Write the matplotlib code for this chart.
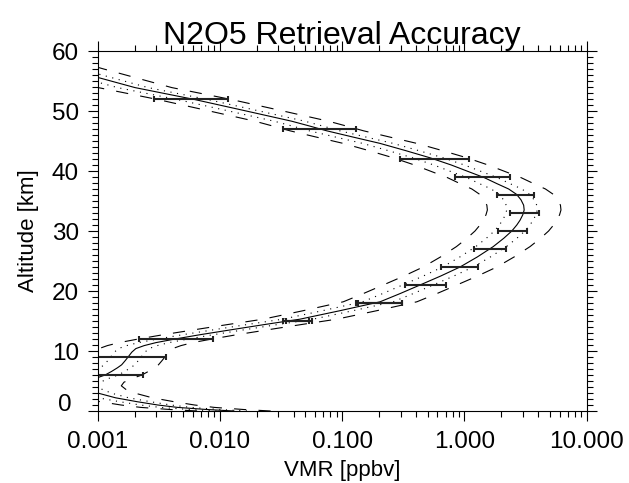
"""N2O5 retrieval accuracy: profile with error envelopes and retrieved points."""

import matplotlib
matplotlib.use("Agg")
import matplotlib.pyplot as plt
import numpy as np
from matplotlib.ticker import FixedLocator, FuncFormatter, LogLocator, MultipleLocator, NullFormatter

plt.rcParams["font.family"] = ["Liberation Sans", "DejaVu Sans"]

# True profile (altitude km, VMR ppbv)
ALT = [0.0, 0.25, 0.6, 1.0, 1.55, 2.2, 2.95, 3.6, 4.2, 4.8, 5.5, 6.0, 6.6, 7.2,
       7.7, 8.4, 9.05, 9.8, 10.4, 10.9, 11.4, 12.0, 12.7, 13.6, 14.4, 15.3,
       16.7, 18.2, 19.6, 21.0, 22.5, 24.0, 25.7, 27.4, 28.8, 30.0, 31.0, 31.8,
       32.7, 33.5, 34.3, 35.2, 36.1, 37.0, 37.9, 38.9, 39.8, 41.0, 42.2, 43.4,
       44.6, 45.7, 46.7, 47.5, 48.3, 50.1, 51.9, 53.9, 55.6, 57.0, 58.5, 60.5]
VMR = [0.013, 0.0078, 0.0045, 0.0031, 0.0021, 0.0014, 0.00102, 0.00085,
       0.00078, 0.00082, 0.00098, 0.00115, 0.0013, 0.00145, 0.00157, 0.00168,
       0.00178, 0.0019, 0.00205, 0.0024, 0.0030, 0.0043, 0.0068, 0.0129,
       0.023, 0.045, 0.095, 0.204, 0.30, 0.433, 0.64, 0.92, 1.28, 1.72, 2.1,
       2.44, 2.68, 2.85, 3.0, 3.08, 3.05, 2.9, 2.67, 2.3, 1.84, 1.45, 1.11,
       0.78, 0.523, 0.33, 0.204, 0.12, 0.0747, 0.054, 0.0386, 0.0156, 0.00625,
       0.00202, 0.001, 0.00056, 0.00031, 0.00015]

# envelope factors (dotted: +/-28 %, dashed: x/÷ 2)
DOT_LO, DOT_HI = 0.72, 1.28
DASH_LO, DASH_HI = 0.5, 2.0

# retrieved points: altitude, lower and upper end of the error bar
ERR_ALT = [52, 47, 42, 39, 36, 33, 30, 27, 24, 21, 18, 18, 15, 15, 12, 9, 6]
ERR_LO = [0.0029, 0.0326, 0.297, 0.837, 1.84, 2.36, 1.87, 1.20, 0.643, 0.326,
          0.1297, 0.1347, 0.0330, 0.0347, 0.00219, 0.0005, 0.0005]
ERR_HI = [0.01157, 0.1297, 1.096, 2.36, 3.73, 4.07, 3.23, 2.17, 1.28, 0.703,
          0.31, 0.31, 0.0535, 0.0563, 0.00883, 0.0036, 0.00233]

alt = np.array(ALT)
vmr = np.array(VMR)
lo = np.array(ERR_LO)
hi = np.array(ERR_HI)
mid = np.sqrt(lo * hi)

fig = plt.figure(figsize=(6.29, 4.83), dpi=100)
ax = fig.add_axes([97.7 / 629, 1 - 411 / 483, 489 / 629, 360 / 483])

ax.plot(vmr, alt, color="black", lw=0.8)
for f in (DOT_LO, DOT_HI):
    ax.plot(vmr * f, alt, color="black", lw=0.8, linestyle=(0, (1, 5)))
for f in (DASH_LO, DASH_HI):
    ax.plot(vmr * f, alt, color="black", lw=0.8, linestyle=(0, (11, 11)))

ax.errorbar(mid, ERR_ALT, xerr=[mid - lo, hi - mid], fmt="none",
            ecolor="#222222", elinewidth=1.5, capsize=2.1, capthick=1.5)

ax.set_xscale("log")
ax.set_xlim(0.001, 10)
ax.set_ylim(0, 60)
ax.xaxis.set_major_locator(FixedLocator([0.001, 0.01, 0.1, 1, 10]))
ax.xaxis.set_major_formatter(FuncFormatter(lambda v, p: f"{v:.3f}"))
ax.xaxis.set_minor_locator(LogLocator(base=10, subs=np.arange(2, 10)))
ax.xaxis.set_minor_formatter(NullFormatter())
ax.yaxis.set_major_locator(MultipleLocator(10))
ax.yaxis.set_minor_locator(MultipleLocator(1))
# the "0" label is drawn separately, sitting just above the bottom axis
ax.yaxis.set_major_formatter(FuncFormatter(lambda v, p: "" if v == 0 else f"{v:.0f}"))

ax.tick_params(which="both", direction="out", top=True, right=True,
               width=0.8, labelsize=17.5)
ax.tick_params(which="major", length=7.5)
ax.tick_params(which="minor", length=4.5)
ax.tick_params(axis="x", pad=7)
ax.tick_params(axis="y", pad=6)
for s in ax.spines.values():
    s.set_linewidth(0.8)

trans, _, _ = ax.get_yaxis_text1_transform((7.5 + 6) * 100 / 72)
ax.text(0, 0, "0", transform=trans, ha="right", va="baseline", fontsize=17.5)

ax.set_xlabel("VMR [ppbv]", fontsize=16)
ax.set_ylabel("Altitude [km]", fontsize=16)
ax.xaxis.set_label_coords(0.5, -0.135)
ax.yaxis.set_label_coords(-0.12, 0.5)
ax.set_title("N2O5 Retrieval Accuracy", fontsize=23, pad=3)

fig.savefig("out.png", dpi=100)
